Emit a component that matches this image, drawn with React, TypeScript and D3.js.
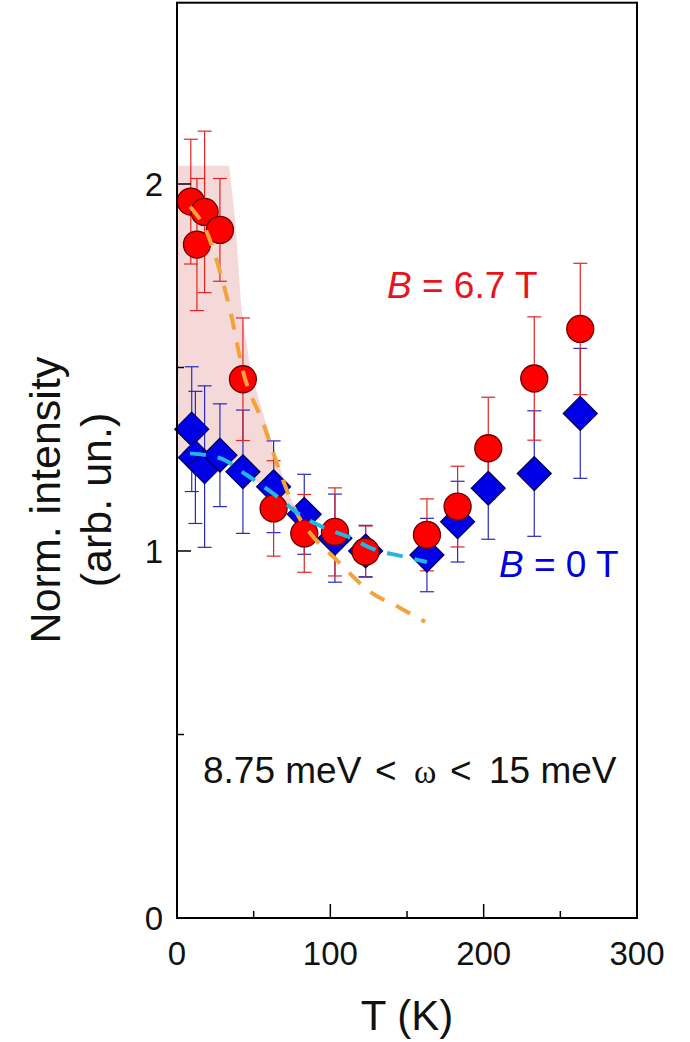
import React from "react";
import * as d3 from "d3";

// Temperature (K), normalized intensity and error for B = 6.7 T
const T_FIELD = [9, 13, 18, 28, 43, 63, 83, 103, 123, 163, 183, 203, 233, 263];
const I_FIELD = [1.952, 1.835, 1.924, 1.875, 1.468, 1.116, 1.048, 1.052, 0.998, 1.044, 1.121, 1.28, 1.47, 1.605];
const E_FIELD = [0.17, 0.18, 0.22, 0.14, 0.167, 0.13, 0.106, 0.12, 0.07, 0.098, 0.11, 0.139, 0.168, 0.179];

// Temperature (K), normalized intensity and error for B = 0 T
const T_ZERO = [9.6, 12, 18, 28, 43, 63, 83, 103, 123, 163, 183, 203, 233, 263];
const I_ZERO = [1.332, 1.255, 1.23, 1.261, 1.216, 1.175, 1.1, 1.035, 1.0, 0.989, 1.08, 1.171, 1.211, 1.375];
const E_ZERO = [0.17, 0.18, 0.22, 0.14, 0.168, 0.125, 0.109, 0.12, 0.07, 0.1, 0.11, 0.139, 0.171, 0.177];

// Guide curves
const FIT_FIELD_T = [8.5, 20.2, 29.2, 34.6, 43.1, 56.1, 69.1, 78, 86.8, 104.2, 125.9, 145.5, 161.8];
const FIT_FIELD_I = [1.938, 1.861, 1.744, 1.657, 1.489, 1.349, 1.193, 1.104, 1.049, 0.975, 0.889, 0.845, 0.807];
const FIT_ZERO_T = [8.5, 28, 45.5, 63.9, 82.2, 99.8, 111.5, 127, 148.7, 162.9];
const FIT_ZERO_I = [1.266, 1.253, 1.207, 1.153, 1.093, 1.057, 1.039, 1.007, 0.984, 0.97];

// Shaded enhancement region: upper edge then lower edge (T, intensity)
const SHADE_UPPER_T = [0, 34, 38, 42, 48, 58, 69.1, 78];
const SHADE_UPPER_I = [2.05, 2.05, 1.9, 1.66, 1.49, 1.349, 1.2, 1.105];
const SHADE_LOWER_T = [78, 63.9, 45.5, 28, 8.5, 0];
const SHADE_LOWER_I = [1.105, 1.153, 1.207, 1.253, 1.266, 1.268];

const X_TICKS = [0, 100, 200, 300];
const X_MINOR = [50, 150, 250];
const Y_TICKS = [0, 1, 2];
const Y_MINOR = [0.5, 1.5];

const SANS = "'Liberation Sans', Arial, Helvetica, sans-serif";
const SERIF = "'Liberation Serif', 'Times New Roman', serif";

export default function App() {
  const x = d3.scaleLinear().domain([0, 300]).range([177, 637]);
  const y = d3.scaleLinear().domain([0, 1]).range([918, 551]);
  const yTop = y(2.494);

  const line = d3
    .line<[number, number]>()
    .x((d) => x(d[0]))
    .y((d) => y(d[1]))
    .curve(d3.curveMonotoneX);

  const fieldFit = FIT_FIELD_T.map((t, i) => [t, FIT_FIELD_I[i]] as [number, number]);
  const zeroFit = FIT_ZERO_T.map((t, i) => [t, FIT_ZERO_I[i]] as [number, number]);

  const shadePts = [
    ...SHADE_UPPER_T.map((t, i) => [t, SHADE_UPPER_I[i]]),
    ...SHADE_LOWER_T.map((t, i) => [t, SHADE_LOWER_I[i]]),
  ];
  const shadePath =
    "M" + shadePts.map((p) => `${x(p[0])},${y(p[1])}`).join("L") + "Z";

  const cap = 7;
  const errBars = (ts: number[], vs: number[], es: number[], color: string, w: number) =>
    ts.map((t, i) => {
      const cx = x(t);
      const y1 = y(vs[i] + es[i]);
      const y2 = y(vs[i] - es[i]);
      return (
        <g key={i} stroke={color} strokeWidth={w} fill="none">
          <line x1={cx} x2={cx} y1={y1} y2={y2} />
          <line x1={cx - cap} x2={cx + cap} y1={y1} y2={y1} />
          <line x1={cx - cap} x2={cx + cap} y1={y2} y2={y2} />
        </g>
      );
    });

  const dHalf = 17;
  const diamond = `M0,${-dHalf}L${dHalf},0L0,${dHalf}L${-dHalf},0Z`;

  return (
    <svg
      width={690}
      height={1042}
      style={{ position: "absolute", left: 0, top: 0, background: "#fff" }}
    >
      <path d={shadePath} fill="#f5d9d9" stroke="none" />

      {errBars(T_ZERO, I_ZERO, E_ZERO, "#2a2ab8", 1.2)}
      {errBars(T_FIELD, I_FIELD, E_FIELD, "#e02424", 1.2)}

      {T_ZERO.map((t, i) => (
        <path
          key={i}
          d={diamond}
          transform={`translate(${x(t)},${y(I_ZERO[i])})`}
          fill="#0000e6"
          stroke="#000050"
          strokeWidth={1.2}
        />
      ))}
      {T_FIELD.map((t, i) => (
        <circle
          key={i}
          cx={x(t)}
          cy={y(I_FIELD[i])}
          r={13.5}
          fill="#ff0000"
          stroke="#6a0000"
          strokeWidth={1.3}
        />
      ))}

      <path
        d={line(fieldFit) || ""}
        fill="none"
        stroke="#f2a33a"
        strokeWidth={4}
        strokeDasharray="16 13"
      />
      <path
        d={line(zeroFit) || ""}
        fill="none"
        stroke="#22b8e6"
        strokeWidth={4}
        strokeDasharray="16 12"
      />

      {/* frame */}
      <rect
        x={x(0)}
        y={yTop}
        width={x(300) - x(0)}
        height={y(0) - yTop}
        fill="none"
        stroke="#000"
        strokeWidth={2}
      />

      {/* ticks */}
      {X_TICKS.map((t) => (
        <line key={"xt" + t} x1={x(t)} x2={x(t)} y1={y(0)} y2={y(0) - 14} stroke="#000" strokeWidth={1.5} />
      ))}
      {X_MINOR.map((t) => (
        <line key={"xm" + t} x1={x(t)} x2={x(t)} y1={y(0)} y2={y(0) - 7} stroke="#000" strokeWidth={1.5} />
      ))}
      {Y_TICKS.map((v) => (
        <line key={"yt" + v} x1={x(0)} x2={x(0) + 14} y1={y(v)} y2={y(v)} stroke="#000" strokeWidth={1.5} />
      ))}
      {Y_MINOR.map((v) => (
        <line key={"ym" + v} x1={x(0)} x2={x(0) + 7} y1={y(v)} y2={y(v)} stroke="#000" strokeWidth={1.5} />
      ))}

      {/* tick labels */}
      {X_TICKS.map((t) => (
        <text key={"xl" + t} x={x(t)} y={965} textAnchor="middle" fontFamily={SANS} fontSize={33} fill="#111">
          {t}
        </text>
      ))}
      {Y_TICKS.map((v) => (
        <text key={"yl" + v} x={x(0) - 14} y={y(v) + 12} textAnchor="end" fontFamily={SANS} fontSize={33} fill="#111">
          {v}
        </text>
      ))}

      {/* axis titles */}
      <text x={407} y={1030} textAnchor="middle" fontFamily={SANS} fontSize={42} fill="#111">
        T (K)
      </text>
      <g transform="translate(60,500) rotate(-90)">
        <text x={0} y={0} textAnchor="middle" fontFamily={SANS} fontSize={43} fill="#111">
          Norm. intensity
        </text>
      </g>
      <g transform="translate(111,500) rotate(-90)">
        <text x={0} y={0} textAnchor="middle" fontFamily={SANS} fontSize={43} fill="#111">
          (arb. un.)
        </text>
      </g>

      {/* series labels */}
      <text x={387} y={298} fontFamily={SANS} fontSize={37} fill="#e8141c">
        <tspan fontStyle="italic">B</tspan> = 6.7 T
      </text>
      <text x={499} y={577} fontFamily={SANS} fontSize={37} fill="#0000dc">
        <tspan fontStyle="italic">B</tspan> = 0 T
      </text>

      {/* energy window */}
      <g fontFamily={SANS} fontSize={37} fill="#111">
        <text x={203} y={783}>8.75 meV</text>
        <text x={375} y={783}>&lt;</text>
        <text x={414} y={783} fontFamily={SERIF} fontSize={34}>ω</text>
        <text x={450} y={783}>&lt;</text>
        <text x={489} y={783}>15 meV</text>
      </g>
    </svg>
  );
}
